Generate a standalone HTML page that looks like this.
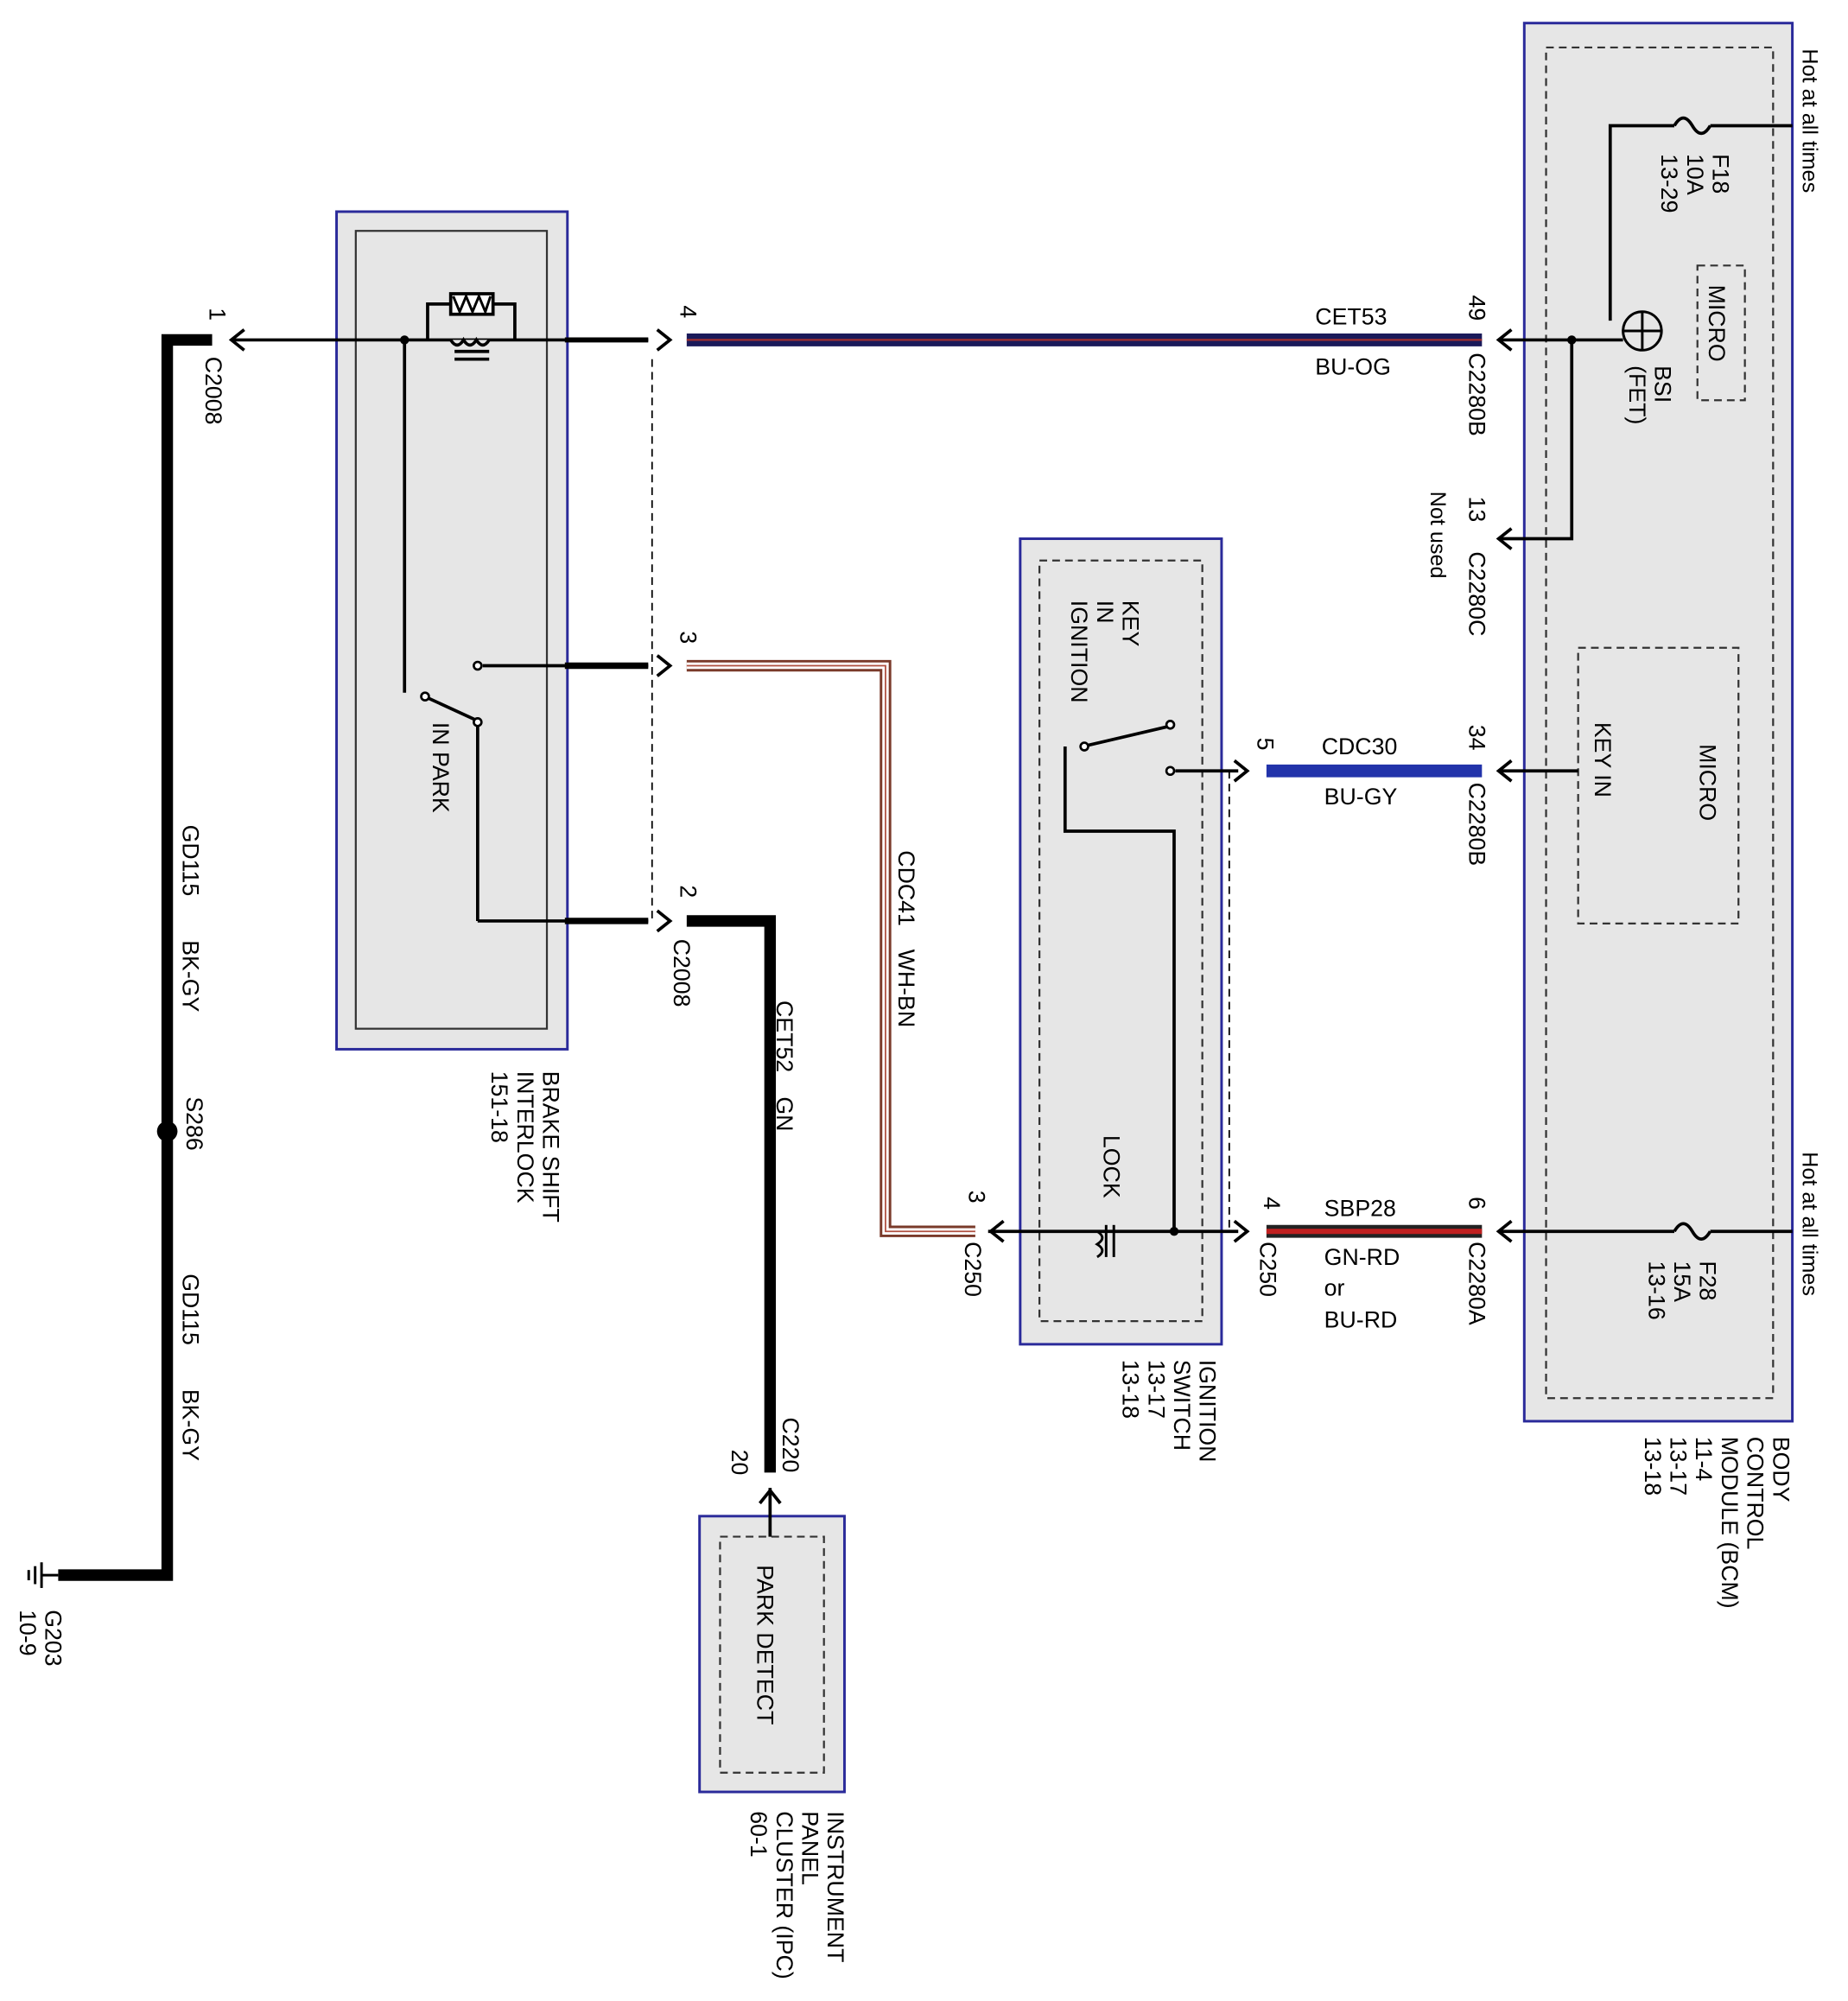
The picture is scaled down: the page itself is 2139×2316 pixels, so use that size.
<!DOCTYPE html>
<html><head><meta charset="utf-8"><style>
html,body{margin:0;padding:0;background:#fff;}
svg{display:block;}
text{font-family:"Liberation Sans",sans-serif;font-size:18px;fill:#000;}
.s{font-size:17px;}
</style></head><body>
<svg width="2139" height="2316" viewBox="0 0 1440 1560" xmlns="http://www.w3.org/2000/svg">
<rect width="1440" height="1560" fill="#fff"/>
<rect x="262" y="165" width="180" height="653" fill="#e6e6e6" stroke="#2a2a9a" stroke-width="2"/>
<rect x="277" y="180" width="149" height="622" fill="#e6e6e6" stroke="#333" stroke-width="1.5"/>
<rect x="795" y="420" width="157" height="628" fill="#e6e6e6" stroke="#2a2a9a" stroke-width="2"/>
<rect x="810" y="437" width="127" height="593" fill="none" stroke="#333" stroke-width="1.5" stroke-dasharray="6,4"/>
<rect x="1188" y="18" width="209" height="1090" fill="#e6e6e6" stroke="#2a2a9a" stroke-width="2"/>
<rect x="1205" y="37" width="177" height="1053" fill="none" stroke="#333" stroke-width="1.5" stroke-dasharray="6,4"/>
<rect x="1323" y="207" width="37" height="105" fill="none" stroke="#333" stroke-width="1.5" stroke-dasharray="6,4"/>
<rect x="1230" y="505" width="125" height="215" fill="none" stroke="#333" stroke-width="1.5" stroke-dasharray="6,4"/>
<rect x="545" y="1182" width="113" height="215" fill="#e6e6e6" stroke="#2a2a9a" stroke-width="2"/>
<rect x="561" y="1198" width="81" height="184" fill="none" stroke="#333" stroke-width="1.5" stroke-dasharray="6,4"/>

<polyline points="165,265 130,265 130,1228 45,1228" fill="none" stroke="#000" stroke-width="9"/>
<circle cx="130" cy="882" r="8" fill="#000"/>
<line x1="32" y1="1218" x2="32" y2="1238" stroke="#000" stroke-width="2"/>
<line x1="27" y1="1221" x2="27" y2="1235" stroke="#000" stroke-width="2"/>
<line x1="22" y1="1224" x2="22" y2="1232" stroke="#000" stroke-width="2"/>
<line x1="32" y1="1228" x2="45" y2="1228" stroke="#000" stroke-width="2"/>

<g fill="none" stroke="#000" stroke-width="2.5">
<polyline points="190,257 180,265 190,273"/><line x1="180" y1="265" x2="200" y2="265"/>
<polyline points="512,257 522,265 512,273"/>
<polyline points="512,511 522,519 512,527"/>
<polyline points="512,710 522,718 512,726"/>
<polyline points="1178,257 1168,265 1178,273"/>
<polyline points="1178,412 1168,420 1178,428"/>
<polyline points="1178,593 1168,601 1178,609"/>
<polyline points="1178,952 1168,960 1178,968"/>
<polyline points="962,593 972,601 962,609"/>
<polyline points="962,952 972,960 962,968"/>
<polyline points="782,952 772,960 782,968"/>
<polyline points="592,1172 600,1162 608,1172"/>
<line x1="200" y1="265" x2="505" y2="265"/>
<line x1="315" y1="265" x2="315" y2="540"/>
<line x1="333" y1="544" x2="372" y2="562"/>
<line x1="372" y1="566" x2="372" y2="718"/>
<line x1="372" y1="718" x2="505" y2="718"/>
<line x1="376" y1="519" x2="505" y2="519"/>
<polyline points="333,265 333,237 401,237 401,265"/>
<line x1="770" y1="960" x2="965" y2="960"/>
<polyline points="915,960 915,648 830,648 830,582"/>
<line x1="848" y1="581" x2="912" y2="566"/>
<line x1="916" y1="601" x2="965" y2="601"/>
<polyline points="1168,265 1265,265"/>
<polyline points="1225,265 1225,420 1168,420"/>
<line x1="1170" y1="601" x2="1230" y2="601"/>
<polyline points="1255,250 1255,98 1305,98"/>
<path d="M1305,98 q7,-12 14,0 q7,12 14,0"/>
<line x1="1333" y1="98" x2="1397" y2="98"/>
<line x1="1168" y1="960" x2="1305" y2="960"/>
<path d="M1305,960 q7,-12 14,0 q7,12 14,0"/>
<line x1="1333" y1="960" x2="1397" y2="960"/>
<line x1="600" y1="1160" x2="600" y2="1198"/>
</g>
<line x1="440" y1="265" x2="505" y2="265" stroke="#000" stroke-width="4"/>
<line x1="440" y1="519" x2="505" y2="519" stroke="#000" stroke-width="5"/>
<line x1="440" y1="718" x2="505" y2="718" stroke="#000" stroke-width="5"/>
<line x1="508" y1="280" x2="508" y2="718" stroke="#000" stroke-width="1.2" stroke-dasharray="6,4"/>
<line x1="958" y1="601" x2="958" y2="960" stroke="#000" stroke-width="1.2" stroke-dasharray="6,4"/>
<rect x="351" y="229" width="33" height="16" fill="#fff" stroke="#000" stroke-width="2.5"/>
<polyline points="353,231 358,243 363,231 368,243 373,231 378,243 382,231" fill="none" stroke="#000" stroke-width="2"/>
<path d="M351,265 q5,8 10,0 q5,8 10,0 q5,8 10,0" fill="#e6e6e6" stroke="#000" stroke-width="2.5"/>
<line x1="354" y1="274" x2="381" y2="274" stroke="#000" stroke-width="2.5"/>
<line x1="354" y1="280" x2="381" y2="280" stroke="#000" stroke-width="2.5"/>
<path d="M855,960 q8,5 0,10 q8,5 0,10" fill="none" stroke="#000" stroke-width="2"/>
<line x1="862" y1="955" x2="862" y2="980" stroke="#000" stroke-width="2"/>
<line x1="868" y1="955" x2="868" y2="980" stroke="#000" stroke-width="2"/>
<circle cx="315" cy="265" r="3.5" fill="#000"/><circle cx="1225" cy="265" r="3.5" fill="#000"/><circle cx="915" cy="960" r="3.5" fill="#000"/>
<g fill="#fff" stroke="#000" stroke-width="1.8">
<circle cx="331" cy="543" r="3"/><circle cx="372" cy="563" r="3"/><circle cx="372" cy="519" r="3"/>
<circle cx="845" cy="582" r="3"/><circle cx="912" cy="565" r="3"/><circle cx="912" cy="601" r="3"/>
</g>
<circle cx="1280" cy="258" r="15" fill="none" stroke="#000" stroke-width="2"/>
<line x1="1265" y1="258" x2="1295" y2="258" stroke="#000" stroke-width="2"/>
<line x1="1280" y1="243" x2="1280" y2="273" stroke="#000" stroke-width="2"/>
<line x1="535" y1="265" x2="1155" y2="265" stroke="#1a1a5a" stroke-width="10"/>
<line x1="535" y1="265" x2="1155" y2="265" stroke="#a03030" stroke-width="1.5"/>
<line x1="987" y1="601" x2="1155" y2="601" stroke="#2233aa" stroke-width="10"/>
<line x1="987" y1="960" x2="1155" y2="960" stroke="#222" stroke-width="10"/>
<line x1="987" y1="960" x2="1155" y2="960" stroke="#c02020" stroke-width="4"/>
<polyline points="535,519 690,519 690,960 760,960" fill="none" stroke="#7a3a2a" stroke-width="9"/>
<polyline points="535,519 690,519 690,960 760,960" fill="none" stroke="#fff" stroke-width="5"/>
<polyline points="535,519 690,519 690,960 760,960" fill="none" stroke="#b05040" stroke-width="1.2"/>
<polyline points="535,718 600,718 600,1148" fill="none" stroke="#000" stroke-width="9"/>

<text x="1025" y="253">CET53</text><text x="1025" y="292">BU-OG</text>
<text x="1030" y="588">CDC30</text><text x="1032" y="627">BU-GY</text>
<text x="1032" y="948">SBP28</text><text x="1032" y="986">GN-RD</text>
<text x="1032" y="1010">or</text><text x="1032" y="1035">BU-RD</text>

<g>
<text transform="translate(1405,38) rotate(90)" class="s">Hot at all times</text>
<text transform="translate(1405,898) rotate(90)" class="s">Hot at all times</text>
<text transform="translate(1335,120) rotate(90)">F18</text>
<text transform="translate(1315,120) rotate(90)">10A</text>
<text transform="translate(1295,120) rotate(90)">13-29</text>
<text transform="translate(1332,222) rotate(90)">MICRO</text>
<text transform="translate(1290,285) rotate(90)">BSI</text>
<text transform="translate(1270,285) rotate(90)">(FET)</text>
<text transform="translate(1145,230) rotate(90)">49</text>
<text transform="translate(1145,275) rotate(90)">C2280B</text>
<text transform="translate(1145,387) rotate(90)">13</text>
<text transform="translate(1145,430) rotate(90)">C2280C</text>
<text transform="translate(1115,383) rotate(90)" class="s">Not used</text>
<text transform="translate(1243,563) rotate(90)">KEY IN</text>
<text transform="translate(1325,580) rotate(90)">MICRO</text>
<text transform="translate(1145,565) rotate(90)">34</text>
<text transform="translate(1145,610) rotate(90)">C2280B</text>
<text transform="translate(1145,933) rotate(90)">6</text>
<text transform="translate(1145,968) rotate(90)">C2280A</text>
<text transform="translate(1325,983) rotate(90)">F28</text>
<text transform="translate(1305,983) rotate(90)">15A</text>
<text transform="translate(1285,983) rotate(90)">13-16</text>
<text transform="translate(1382,1120) rotate(90)">BODY</text>
<text transform="translate(1362,1120) rotate(90)">CONTROL</text>
<text transform="translate(1342,1120) rotate(90)">MODULE (BCM)</text>
<text transform="translate(1322,1120) rotate(90)">11-4</text>
<text transform="translate(1302,1120) rotate(90)">13-17</text>
<text transform="translate(1282,1120) rotate(90)">13-18</text>
<text transform="translate(980,575) rotate(90)">5</text>
<text transform="translate(875,468) rotate(90)">KEY</text>
<text transform="translate(855,468) rotate(90)">IN</text>
<text transform="translate(835,468) rotate(90)">IGNITION</text>
<text transform="translate(860,885) rotate(90)">LOCK</text>
<text transform="translate(985,933) rotate(90)">4</text>
<text transform="translate(982,968) rotate(90)">C250</text>
<text transform="translate(755,928) rotate(90)">3</text>
<text transform="translate(752,968) rotate(90)">C250</text>
<text transform="translate(935,1060) rotate(90)">IGNITION</text>
<text transform="translate(915,1060) rotate(90)">SWITCH</text>
<text transform="translate(895,1060) rotate(90)">13-17</text>
<text transform="translate(875,1060) rotate(90)">13-18</text>
<text transform="translate(700,663) rotate(90)">CDC41</text>
<text transform="translate(700,740) rotate(90)">WH-BN</text>
<text transform="translate(605,780) rotate(90)">CET52</text>
<text transform="translate(605,855) rotate(90)">GN</text>
<text transform="translate(610,1105) rotate(90)">C220</text>
<text transform="translate(570,1130) rotate(90)">20</text>
<text transform="translate(590,1220) rotate(90)">PARK DETECT</text>
<text transform="translate(645,1412) rotate(90)">INSTRUMENT</text>
<text transform="translate(625,1412) rotate(90)">PANEL</text>
<text transform="translate(605,1412) rotate(90)">CLUSTER (IPC)</text>
<text transform="translate(585,1412) rotate(90)">60-1</text>
<text transform="translate(530,238) rotate(90)">4</text>
<text transform="translate(530,492) rotate(90)">3</text>
<text transform="translate(530,690) rotate(90)">2</text>
<text transform="translate(525,732) rotate(90)">C2008</text>
<text transform="translate(337,563) rotate(90)">IN PARK</text>
<text transform="translate(423,835) rotate(90)">BRAKE SHIFT</text>
<text transform="translate(403,835) rotate(90)">INTERLOCK</text>
<text transform="translate(383,835) rotate(90)">151-18</text>
<text transform="translate(163,240) rotate(90)">1</text>
<text transform="translate(160,278) rotate(90)">C2008</text>
<text transform="translate(142,643) rotate(90)">GD115</text>
<text transform="translate(142,733) rotate(90)">BK-GY</text>
<text transform="translate(145,855) rotate(90)">S286</text>
<text transform="translate(142,993) rotate(90)">GD115</text>
<text transform="translate(142,1083) rotate(90)">BK-GY</text>
<text transform="translate(35,1255) rotate(90)">G203</text>
<text transform="translate(15,1255) rotate(90)">10-9</text>
</g>
</svg>
</body></html>
